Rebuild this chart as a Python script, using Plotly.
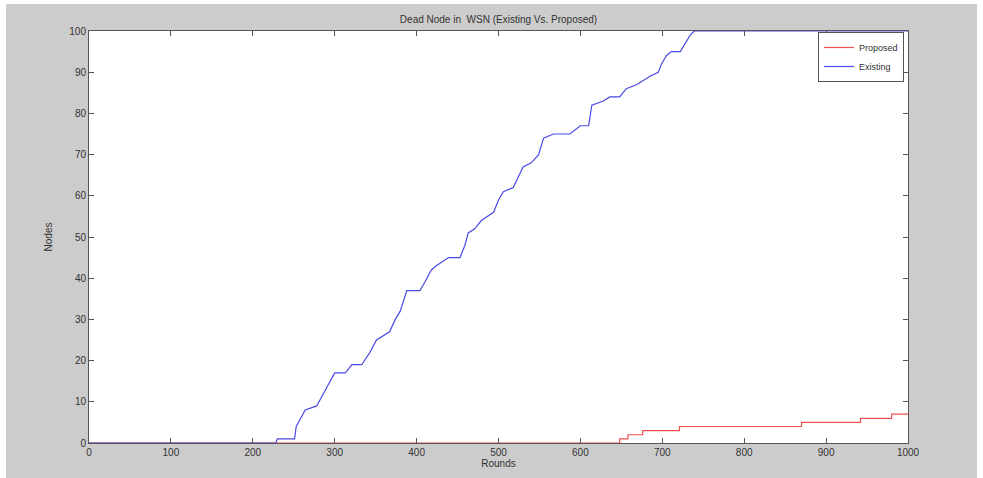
import plotly.graph_objects as go

# Data
existing_rounds = [0, 228, 230, 251, 253, 264, 278, 286, 300, 313, 321, 333, 343, 351, 367,
                   374, 380, 388, 404, 410, 418, 424, 439, 453, 459, 463, 471, 479, 494, 500,
                   506, 518, 530, 540, 549, 555, 567, 587, 600, 610, 614, 628, 636, 648, 656,
                   669, 677, 685, 695, 699, 705, 711, 722, 728, 734, 739, 1000]
existing_nodes = [0, 0, 1, 1, 4, 8, 9, 12, 17, 17, 19, 19, 22, 25, 27,
                  30, 32, 37, 37, 39, 42, 43, 45, 45, 48, 51, 52, 54, 56, 59,
                  61, 62, 67, 68, 70, 74, 75, 75, 77, 77, 82, 83, 84, 84, 86,
                  87, 88, 89, 90, 92, 94, 95, 95, 97, 99, 100, 100]

proposed_rounds = [0, 648, 658, 676, 721, 870, 942, 980, 1000]
proposed_nodes = [0, 1, 2, 3, 4, 5, 6, 7, 7]

x_ticks = [0, 100, 200, 300, 400, 500, 600, 700, 800, 900, 1000]
y_ticks = [0, 10, 20, 30, 40, 50, 60, 70, 80, 90, 100]

title_text = "Dead Node in  WSN (Existing Vs. Proposed)"
x_title = "Rounds"
y_title = "Nodes"

W, H = 983, 478
L, R, T, B = 89, 75, 31, 35
pw, ph = W - L - R, H - T - B

fig = go.Figure()
fig.add_trace(go.Scatter(x=proposed_rounds, y=proposed_nodes, mode="lines",
                         line=dict(color="#f05050", width=1.2, shape="hv"),
                         name="Proposed"))
fig.add_trace(go.Scatter(x=existing_rounds, y=existing_nodes, mode="lines",
                         line=dict(color="#4a4ae6", width=1.2),
                         name="Existing"))


def px_x(p):
    return (p - L) / pw


def px_y(p):
    return (H - B - p) / ph


# thin white frame at the left, top and right edges of the gray figure
for x0, x1, y0, y1 in [(0, 6, 0, H), (0, W, 0, 4), (977, W, 0, H)]:
    fig.add_shape(type="rect", xref="paper", yref="paper", layer="below",
                  x0=px_x(x0), x1=px_x(x1), y0=px_y(y1), y1=px_y(y0),
                  fillcolor="white", line=dict(width=0))

font_family = "Liberation Sans, Arial, sans-serif"
axis_common = dict(showline=True, linecolor="#555555", linewidth=1, mirror="ticks",
                   ticks="inside", ticklen=5, tickcolor="#555555", showgrid=False,
                   zeroline=False, tickfont=dict(size=10, color="#333333", family=font_family))

fig.update_layout(
    width=W, height=H,
    margin=dict(l=L, r=R, t=T, b=B),
    paper_bgcolor="#cccccc",
    plot_bgcolor="white",
    title=dict(text=title_text, x=(L + pw / 2) / W, xanchor="center", y=1 - 19 / H,
               yanchor="middle", font=dict(size=10, color="#333333", family=font_family)),
    xaxis=dict(range=[0, 1000], tickvals=x_ticks, ticktext=[str(v) for v in x_ticks],
               title=dict(text=x_title, standoff=2,
                          font=dict(size=10, color="#333333", family=font_family)),
               **axis_common),
    yaxis=dict(range=[0, 100], tickvals=y_ticks, ticktext=[str(v) for v in y_ticks],
               title=dict(text=y_title, standoff=14,
                          font=dict(size=10, color="#333333", family=font_family)),
               **axis_common),
    legend=dict(x=px_x(904), xanchor="right", y=px_y(32), yanchor="top",
                bgcolor="white", bordercolor="#555555", borderwidth=1,
                font=dict(size=9, color="#333333", family=font_family),
                itemwidth=30, tracegroupgap=0),
    showlegend=True,
)

fig.write_html("out.html", config={"displayModeBar": False},
               post_script="document.body.style.margin='0';document.body.style.padding='0';")
